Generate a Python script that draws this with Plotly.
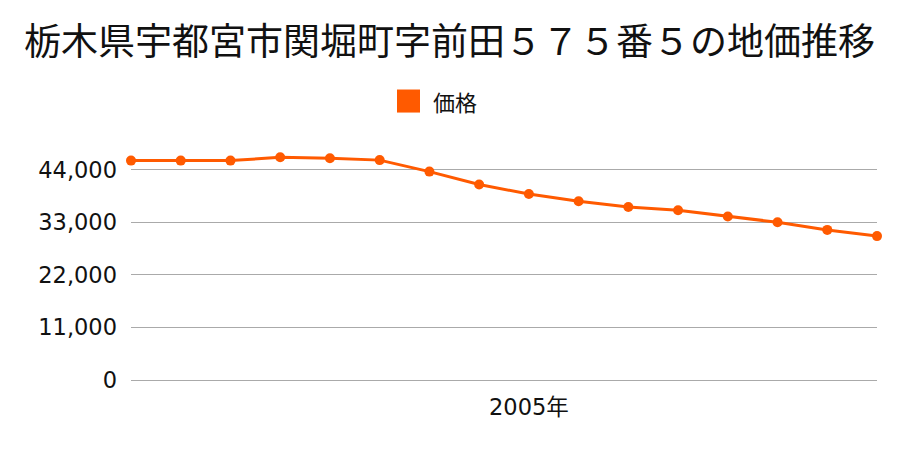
import plotly.graph_objects as go

years = list(range(1997, 2013))
prices = [45900, 45900, 45900, 46600, 46400, 46000, 43600, 40900,
          38900, 37400, 36200, 35500, 34200, 33000, 31400, 30100]
y_ticks = [0, 11000, 22000, 33000, 44000]
x_tick_years = [2005]
x_tick_text = ["2005年"]
title_text = "栃木県宇都宮市関堀町字前田５７５番５の地価推移"
legend_name = "価格"
color = "#FF5A00"

fig = go.Figure()
fig.add_trace(go.Scatter(
    x=years, y=prices, mode="lines+markers", name=legend_name,
    line=dict(color=color, width=3),
    marker=dict(color=color, size=10),
    showlegend=False, cliponaxis=False,
))

W, H = 900, 450
ml, mr, mt, mb = 131, 23, 141.4, 70
tick_font = dict(family="DejaVu Sans, Noto Sans CJK JP", size=22.5, color="#111")
fig.update_layout(
    width=W, height=H,
    margin=dict(l=ml, r=mr, t=mt, b=mb, pad=0),
    paper_bgcolor="white", plot_bgcolor="white",
    font=dict(family="DejaVu Sans, Noto Sans CJK JP", color="#111", size=21),
    showlegend=False,
)
fig.update_xaxes(
    range=[years[0], years[-1]], tickvals=x_tick_years, ticktext=x_tick_text,
    showgrid=False, zeroline=False, showline=False, ticks="",
    ticklabelstandoff=11, tickfont=tick_font,
)
fig.update_yaxes(
    range=[0, 50000], tickvals=y_ticks, tickformat=",",
    showgrid=True, gridcolor="#aaaaaa", gridwidth=1,
    zeroline=True, zerolinecolor="#aaaaaa", zerolinewidth=1,
    showline=False, ticks="",
    ticklabelstandoff=13, tickfont=tick_font,
)
ph = H - mt - mb
pw = W - ml - mr
def px_x(px):
    return (px - ml) / pw
def px_y(py):
    return (H - mb - py) / ph

# Title
fig.add_annotation(
    text=title_text, xref="paper", yref="paper",
    x=px_x(449), y=px_y(40), xanchor="center", yanchor="middle", showarrow=False,
    font=dict(family="Noto Sans CJK JP", size=37, color="#111"),
)
# Legend (manual)
fig.add_shape(type="rect", xref="paper", yref="paper",
              x0=px_x(397), x1=px_x(420), y0=px_y(113), y1=px_y(90),
              fillcolor=color, line=dict(width=0))
fig.add_annotation(
    text=legend_name, xref="paper", yref="paper",
    x=px_x(431), y=px_y(101.5), xanchor="left", yanchor="middle", showarrow=False,
    font=dict(family="Noto Sans CJK JP", size=22, color="#111"),
)

fig.write_html("out.html")
